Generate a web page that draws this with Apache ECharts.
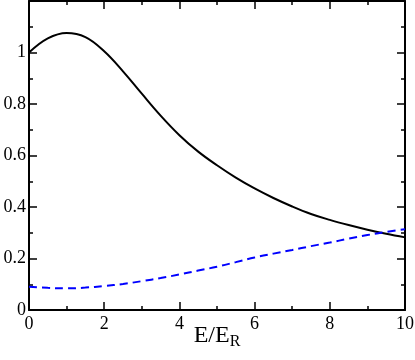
<!DOCTYPE html>
<html>
<head>
<meta charset="utf-8">
<script src="https://cdn.jsdelivr.net/npm/echarts@6/dist/echarts.min.js"></script>
<style>
  html, body { margin: 0; padding: 0; background: #fff; }
  #chart { width: 415px; height: 360px; }
</style>
</head>
<body>
<div id="chart"></div>
<script>
// x 取值 (E/E_R)
var energy = [0, 0.5, 1, 1.5, 2, 2.5, 3, 3.5, 4, 4.5, 5, 5.5, 6, 6.5, 7, 7.5, 8, 8.5, 9, 9.5, 10];
// 实线
var solidVals = [1.0, 1.055, 1.076, 1.06, 1.005, 0.927, 0.84, 0.755, 0.679, 0.615, 0.562, 0.514, 0.472, 0.435, 0.402, 0.373, 0.35, 0.33, 0.312, 0.296, 0.282];
// 虚线
var dashVals = [0.09, 0.086, 0.084, 0.087, 0.093, 0.101, 0.112, 0.124, 0.138, 0.153, 0.168, 0.186, 0.204, 0.219, 0.233, 0.248, 0.262, 0.277, 0.291, 0.303, 0.314];
var xTicks = [0, 2, 4, 6, 8, 10];
var yTicks = [0, 0.2, 0.4, 0.6, 0.8, 1];

function pairs(xs, ys) {
  return xs.map(function (x, i) { return [x, ys[i]]; });
}

var chart = echarts.init(document.getElementById('chart'));

var font = 'Liberation Serif';

// 主刻度轴 / 次刻度轴 (次刻度用单独的轴画, 长度短一些)
function makeAxis(pos, max, step, len, withLine) {
  return {
    type: 'value', position: pos, min: 0, max: max, interval: step,
    axisLine: { show: withLine, onZero: false, lineStyle: { color: '#000', width: 2 } },
    axisTick: { show: true, inside: true, length: len, lineStyle: { color: '#000', width: 1.5 } },
    axisLabel: { show: false },
    splitLine: { show: false }
  };
}

var xMain = makeAxis('bottom', 10, 2, 8, true);
xMain.name = '{a|E/E}{b|R}';
xMain.nameLocation = 'middle';
xMain.nameGap = 12;
xMain.nameMoveOverlap = false;
xMain.nameTextStyle = {
  rich: {
    a: { fontFamily: font, fontSize: 24, color: '#000' },
    b: { fontFamily: font, fontSize: 16, color: '#000', padding: [12, 0, 0, 0] }
  }
};
xMain.axisLabel = {
  show: true, margin: 5, color: '#000', fontFamily: font, fontSize: 18,
  formatter: function (v) { return xTicks.indexOf(v) >= 0 ? String(v) : ''; }
};

var yMain = makeAxis('left', 1.2, 0.2, 8, true);
yMain.axisLabel = {
  show: true, margin: 3, color: '#000', fontFamily: font, fontSize: 18,
  formatter: function (v) {
    var r = Math.round(v * 10) / 10;
    return yTicks.indexOf(r) >= 0 ? String(r) : '';
  }
};

var option = {
  animation: false,
  grid: { left: 29, right: 10, top: 1, bottom: 50, outerBoundsMode: 'none', containLabel: false },
  xAxis: [
    xMain,
    makeAxis('bottom', 10, 1, 4, false),
    makeAxis('top', 10, 2, 8, true),
    makeAxis('top', 10, 1, 4, false)
  ],
  yAxis: [
    yMain,
    makeAxis('left', 1.2, 0.1, 4, false),
    makeAxis('right', 1.2, 0.2, 8, true),
    makeAxis('right', 1.2, 0.1, 4, false)
  ],
  series: [
    {
      type: 'line', data: pairs(energy, solidVals), smooth: 0.4, showSymbol: false,
      lineStyle: { color: '#000', width: 2 }
    },
    {
      type: 'line', data: pairs(energy, dashVals), smooth: 0.4, showSymbol: false,
      lineStyle: { color: '#0000ff', width: 2, type: [8, 5] }
    }
  ]
};

chart.setOption(option);
</script>
</body>
</html>
